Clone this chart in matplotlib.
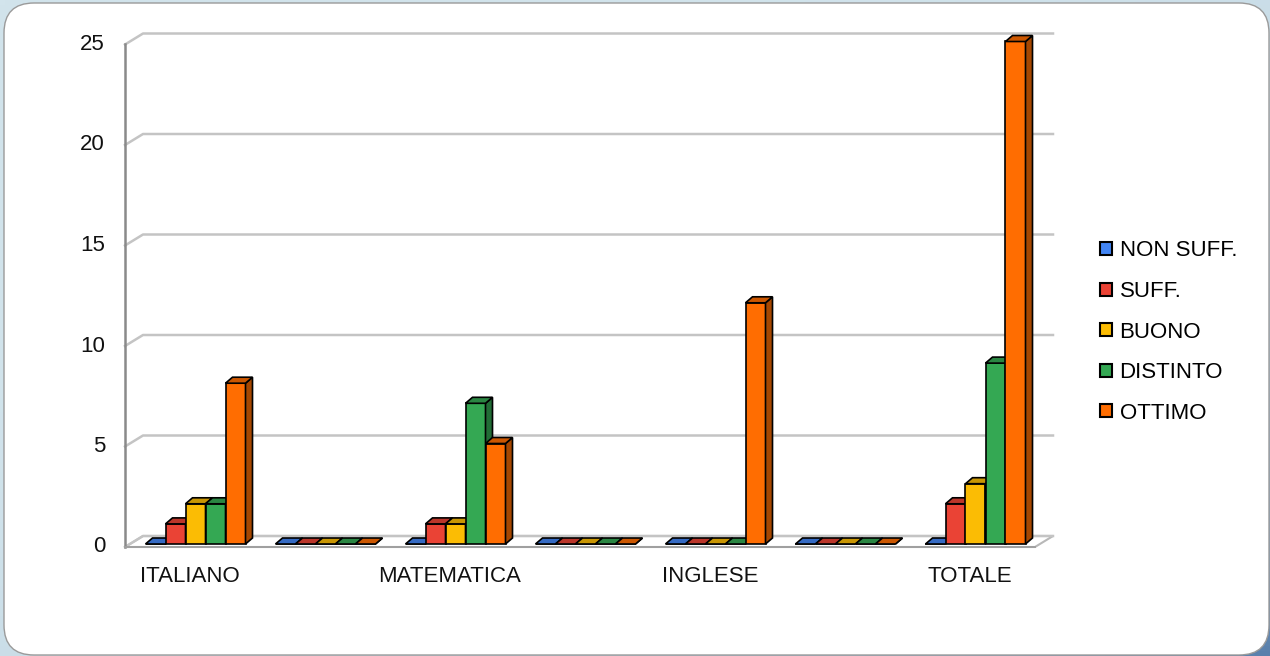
import numpy as np
import matplotlib.pyplot as plt
from matplotlib.patches import Polygon, Rectangle, FancyBboxPatch, Patch
from matplotlib.colors import to_rgb

plt.rcParams['font.family'] = ['Liberation Sans', 'DejaVu Sans']

# =========================================================
# Dati
# =========================================================

categories = ["ITALIANO", "", "MATEMATICA", "", "INGLESE", "", "TOTALE"]

series_names = ["NON SUFF.", "SUFF.", "BUONO", "DISTINTO", "OTTIMO"]

non_suff = [0, 0, 0, 0, 0, 0, 0]
suff = [1, 0, 1, 0, 0, 0, 2]
buono = [2, 0, 1, 0, 0, 0, 3]
distinto = [2, 0, 7, 0, 0, 0, 9]
ottimo = [8, 0, 5, 0, 12, 0, 25]

y_ticks = [0, 5, 10, 15, 20, 25]

colors = ["#4285f4", "#ea4335", "#fbbc04", "#34a853", "#ff6d01"]

series = [non_suff, suff, buono, distinto, ottimo]

FS = 16

# =========================================================
# Figura + sfondo
# =========================================================

W, H = 1270, 656
fig = plt.figure(figsize=(W / 100, H / 100), dpi=100)

bg = fig.add_axes([0, 0, 1, 1])
bg.axis("off")

# gradiente: chiaro in alto a sinistra, blu scuro in basso a destra
gx, gy = np.meshgrid(np.linspace(0, 1, 254), np.linspace(0, 1, 132))
t = np.clip((gx + gy) / 2, 0, 1) ** 4
c0 = np.array(to_rgb("#d2e4ec"))
c1 = np.array(to_rgb("#5a80ac"))
grad = c0[None, None, :] * (1 - t[..., None]) + c1[None, None, :] * t[..., None]
bg.imshow(grad, extent=[0, W, 0, H], aspect="auto", origin="upper")
bg.set_xlim(0, W)
bg.set_ylim(0, H)

card = FancyBboxPatch(
    (4, 1), W - 5, H - 4,
    boxstyle="round,pad=0,rounding_size=30",
    facecolor="white",
    edgecolor="#9a9a9a",
    linewidth=1.0
)
bg.add_patch(card)

# =========================================================
# Area del grafico (pseudo 3D)
# =========================================================

n_cat = len(categories)
px_left, px_right = 125, 1035
px_zero, px_top = 547, 44.5

ax = fig.add_axes([
    px_left / W,
    (H - px_zero) / H,
    (px_right - px_left) / W,
    (px_zero - px_top) / H
])
ax.set_xlim(-0.5, n_cat - 0.5)
ax.set_ylim(0, 25)
ax.axis("off")

ux = n_cat / (px_right - px_left)      # unita' x per pixel
uy = 25 / (px_zero - px_top)           # unita' y per pixel

x0, x1 = -0.5, n_cat - 0.5
wx, wy = 18 * ux, 11 * uy              # profondita' pareti
bx, by = 5.5 * ux, 3 * uy              # posizione barre nel piano
dx, dy = 7 * ux, 6 * uy                # profondita' barre
bw = 20 * ux                           # larghezza barra

# pavimento
ax.add_patch(Polygon(
    [(x0, 0), (x1, 0), (x1 + wx, wy), (x0 + wx, wy)],
    closed=True, facecolor="white", edgecolor="#b8b8b8",
    linewidth=1.5, clip_on=False, zorder=1
))

# griglia
for v in y_ticks:
    ax.plot([x0, x0 + wx, x1 + wx], [v, v + wy, v + wy],
            color="#c4c4c4", linewidth=1.8, clip_on=False, zorder=1)
    ax.text(x0 - 20 * ux, v, str(v), ha="right", va="center",
            fontsize=FS, color="#111111")

ax.plot([x0, x0], [0, 25], color="#8a8a8a", linewidth=1.8,
        clip_on=False, zorder=2)
ax.plot([x0, x1], [0, 0], color="#a0a0a0", linewidth=1.4,
        clip_on=False, zorder=2)


def shade(color, f):
    r, g, b = to_rgb(color)
    return (r * f, g * f, b * f)


z = 3
for c in range(n_cat):
    for s, vals in enumerate(series):
        val = vals[c]
        left = c - 2.5 * bw + s * bw + bx
        col = colors[s]

        ax.add_patch(Rectangle(
            (left, by), bw, val,
            facecolor=col, edgecolor="black", linewidth=1.2,
            clip_on=False, zorder=z
        ))
        ax.add_patch(Polygon(
            [(left + bw, by), (left + bw + dx, by + dy),
             (left + bw + dx, by + val + dy), (left + bw, by + val)],
            closed=True, facecolor=shade(col, 0.65), edgecolor="black",
            linewidth=1.2, clip_on=False, zorder=z
        ))
        ax.add_patch(Polygon(
            [(left, by + val), (left + dx, by + val + dy),
             (left + bw + dx, by + val + dy), (left + bw, by + val)],
            closed=True, facecolor=shade(col, 0.8), edgecolor="black",
            linewidth=1.2, clip_on=False, zorder=z
        ))
        z += 1

for c, name in enumerate(categories):
    ax.text(c, -29 * uy, name, ha="center", va="center",
            fontsize=FS, color="#111111")

# =========================================================
# Legenda
# =========================================================

handles = [
    Patch(facecolor=colors[i], edgecolor="black", linewidth=1.5,
          label=series_names[i])
    for i in range(len(series_names))
]

fig.legend(
    handles=handles,
    loc="center left",
    bbox_to_anchor=(1100 / W, 1 - 332 / H),
    frameon=False,
    fontsize=FS,
    handlelength=0.52,
    handleheight=0.52,
    handletextpad=0.36,
    labelspacing=0.88,
    borderpad=0,
    borderaxespad=0
)

fig.savefig("out.png", dpi=100)
